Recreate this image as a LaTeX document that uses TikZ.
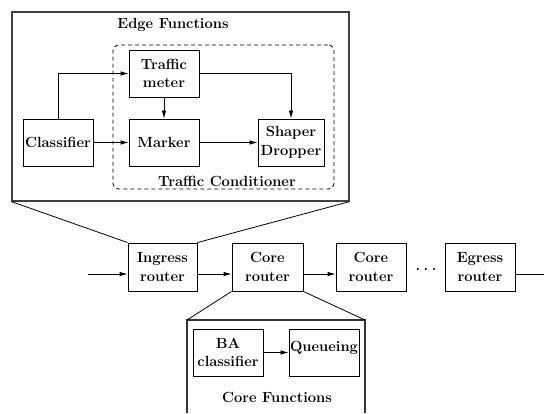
\documentclass[tikz,border=0pt]{standalone}
\usepackage{fontspec}
\usetikzlibrary{arrows.meta,calc}
\begin{document}
\begin{tikzpicture}[x=1pt,y=-1pt,
  lbl/.style={font=\fontsize{14.7}{18.5}\selectfont\bfseries, align=center, inner sep=0pt},
  blk/.style={lbl, draw, line width=0.9pt, minimum width=70pt, minimum height=47pt},
  arr/.style={line width=0.8pt, -{Latex[length=8pt,width=4.5pt]}},
  ln/.style={line width=0.8pt}]
\useasboundingbox (0,0) rectangle (544,413);

% edge functions enclosure
\node[draw, line width=1.2pt, draw=black!75, minimum width=337pt, minimum height=189pt, inner sep=0pt] (edge) at (180.5,106.5) {};
\node[lbl] (edgetitle) at (173,25) {Edge Functions};
\node[draw, dash pattern=on 4pt off 3pt, line width=0.8pt, rounded corners=6pt, minimum width=221pt, minimum height=144pt, inner sep=0pt] (tc) at (223.5,117) {};
\node[lbl] (tctitle) at (227,181) {Traffic Conditioner};

% edge function blocks
\node[blk] (cls) at (58,142.5) {Classifier};
\node[blk] (meter) at (164,73.5) {Traffic\\meter};
\node[blk] (mark) at (164,142.5) {Marker};
\node[blk, minimum width=66pt] (shape) at (291,142.5) {Shaper\\Dropper};

\draw[arr] (cls.north) |- (meter.west);
\draw[arr] (cls.east) -- (mark.west);
\draw[arr] (meter.south) -- (mark.north);
\draw[arr] (mark.east) -- (shape.west);
\draw[arr] (meter.east) -| (shape.north);

% routers
\node[blk, minimum width=69pt, minimum height=48pt] (ing) at (162.5,267) {Ingress\\router};
\node[blk, minimum width=71pt, minimum height=48pt] (core1) at (267.5,267) {Core\\router};
\node[blk, minimum width=70pt, minimum height=48pt] (core2) at (371,267) {Core\\router};
\node[blk, minimum width=70pt, minimum height=48pt] (egr) at (480,267) {Egress\\router};
\node[lbl, anchor=base] (dots) at (426,270) {.\hspace{3.5pt}.\hspace{3.5pt}.};

\coordinate (src) at (88,274);
\coordinate (sink) at (544,274);
\draw[arr] (src) -- (src -| ing.west);
\draw[arr] ([yshift=-7pt]ing.east) -- ([yshift=-7pt]core1.west);
\draw[arr] ([yshift=-7pt]core1.east) -- ([yshift=-7pt]core2.west);
\draw[ln] ([yshift=-7pt]egr.east) -- (sink);

% funnel to the edge functions
\draw[ln] (edge.south west) -- (ing.north west);
\draw[ln] (edge.south east) -- (ing.north east);

% core functions enclosure (open at the bottom)
\coordinate (cfl) at (187,320);
\coordinate (cfr) at (365,320);
\draw[line width=1.1pt, draw=black!80] (187,413) -- (cfl) -- (cfr) -- (365,413);
\draw[ln] (core1.south west) -- (cfl);
\draw[ln] (core1.south east) -- (cfr);

\node[blk] (ba) at (228,352.5) {BA\\classifier};
\node[draw, line width=0.9pt, minimum width=70pt, minimum height=47pt, inner sep=0pt] (queue) at (324,352.5) {};
\node[lbl] (queuetxt) at (324,348) {Queueing};
\draw[arr] (ba.east) -- (queue.west);
\node[lbl] (cftitle) at (277,397) {Core Functions};
\end{tikzpicture}
\end{document}
